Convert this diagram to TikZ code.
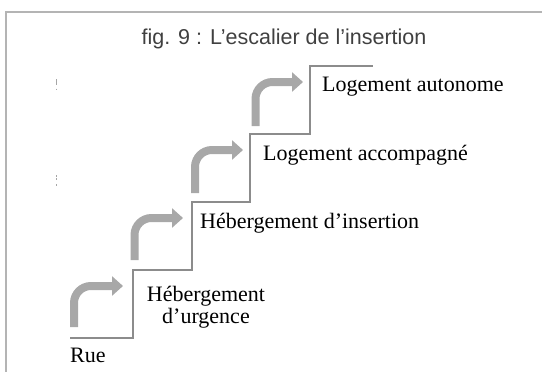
\documentclass[tikz,border=0pt]{standalone}
\usepackage{fontspec}
\setmainfont{Liberation Serif}
\newfontfamily\titlefont{Liberation Sans}
\usetikzlibrary{arrows.meta}
\definecolor{framegray}{HTML}{B4B4B4}
\definecolor{stairgray}{HTML}{8C8C8C}
\definecolor{arrowgray}{HTML}{A8A8A8}
\definecolor{titlegray}{HTML}{404040}
\begin{document}
\begin{tikzpicture}[x=1pt,y=-1pt,
  frameline/.style={draw=framegray,line width=1.2pt},
  stairline/.style={draw=stairgray,line width=2.6pt,line join=miter},
  steparrow/.style={draw=arrowgray,line width=8pt,rounded corners=17pt,
    -{Triangle[width=19pt,length=11pt]}},
  lbl/.style={anchor=base west,inner sep=0pt,font=\fontsize{22}{23}\selectfont},
  speck/.style={draw=gray!70,line width=0.8pt}]
\useasboundingbox (0,0) rectangle (542,372);
% frame
\coordinate (fTL) at (6,12);
\coordinate (fTR) at (542,12);
\coordinate (fBL) at (6,372);
\draw[frameline] (fTR) -- (fTL) -- (fBL);
% title
\node[anchor=base,inner sep=0pt,text=titlegray,font=\titlefont\fontsize{21.5}{23}\selectfont] (title) at (284,45) {fig. 9 : L’escalier de l’insertion};
% stairs
\coordinate (s0) at (70,338);
\coordinate (s1) at (133,338);
\coordinate (s2) at (133,270);
\coordinate (s3) at (192,270);
\coordinate (s4) at (192,202);
\coordinate (s5) at (250,202);
\coordinate (s6) at (250,134);
\coordinate (s7) at (310,134);
\coordinate (s8) at (310,66);
\coordinate (s9) at (373,66);
\draw[stairline] (s0) -- (s1) -- (s2) -- (s3) -- (s4) -- (s5) -- (s6) -- (s7) -- (s8) -- (s9);
% arrows
\foreach \i in {0,1,2,3}{
  \coordinate (a\i b) at ({74+60.5*\i},{327-67*\i});
  \coordinate (a\i c) at ({74+60.5*\i},{286-68*\i});
  \coordinate (a\i t) at ({123+60*\i},{286-68*\i});
  \draw[steparrow] (a\i b) -- (a\i c) -- (a\i t);
}
% labels
\node[lbl] (rue) at (70,362) {Rue};
\node[anchor=base,inner sep=0pt,align=center,font=\fontsize{22}{22}\selectfont] (urg) at (206,323) {Hébergement\\d’urgence};
\node[lbl] (ins) at (200,228) {Hébergement d’insertion};
\node[lbl] (acc) at (263,160) {Logement accompagné};
\node[lbl] (aut) at (322,92) {Logement autonome};
% specks
\coordinate (k1a) at (56,79); \coordinate (k1b) at (56,85);
\coordinate (k2a) at (56,88.5); \coordinate (k2b) at (56,90);
\coordinate (k3a) at (56,175); \coordinate (k3b) at (56,176.5);
\coordinate (k4a) at (56,178); \coordinate (k4b) at (56,179.5);
\coordinate (k5a) at (56,184); \coordinate (k5b) at (56,185.5);
\draw[speck] (k1a) -- (k1b);
\draw[speck] (k2a) -- (k2b);
\draw[speck] (k3a) -- (k3b);
\draw[speck] (k4a) -- (k4b);
\draw[speck] (k5a) -- (k5b);
\end{tikzpicture}
\end{document}
